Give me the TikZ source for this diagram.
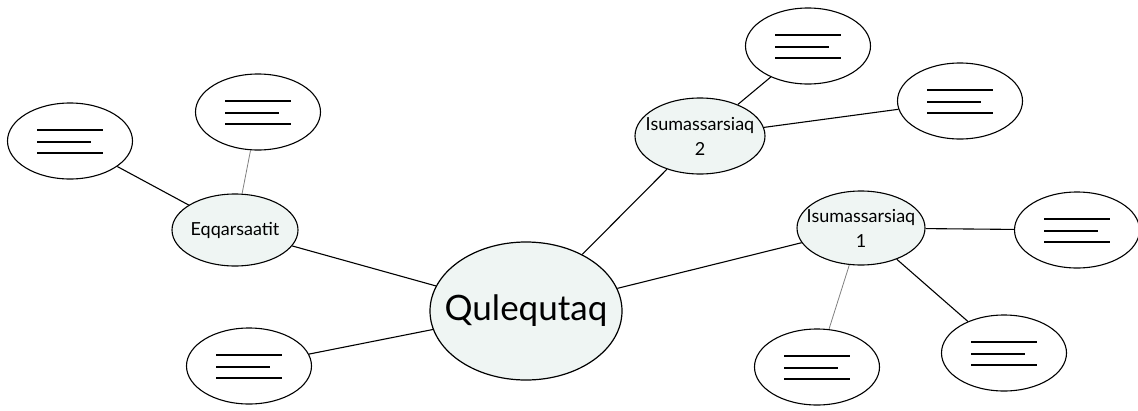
\documentclass[tikz,border=0pt]{standalone}
\usepackage{fontspec}
\setmainfont{Lato}
\usetikzlibrary{calc,positioning,shapes.geometric}
\definecolor{topicfill}{RGB}{239,245,243}
\begin{document}
\begin{tikzpicture}[x=1pt,y=-1pt,
  topic/.style={ellipse,draw,fill=topicfill,line width=1.2pt,inner sep=0pt,minimum width=192pt,minimum height=138pt,
    label={[font=\fontsize{35}{40}\selectfont]center:#1}},
  idea/.style={ellipse,draw,fill=topicfill,line width=1.1pt,inner sep=0pt,minimum width=128pt,minimum height=74pt,
    label={[align=center,font=\fontsize{18}{25}\selectfont]center:{#1}}},
  blank/.style={ellipse,draw,line width=1.1pt,inner sep=0pt,minimum width=125pt,minimum height=76pt},
  link/.style={line width=1.1pt},
  thin/.style={line width=.8pt,gray}]
  \useasboundingbox (0,0) rectangle (1138,410);

  \node[topic=Qulequtaq] (q) at (526,311) {};
  \node[idea=Eqqarsaatit,minimum width=126pt,minimum height=72pt] (e) at (235,230) {};
  \node[idea={Isumassarsiaq\\2},minimum width=130pt,minimum height=76pt] (i2) at (700,136) {};
  \node[idea={Isumassarsiaq\\1}] (i1) at (861,228) {};

  \node[blank] (b1) at (70,141) {};
  \node[blank] (b2) at (258,112) {};
  \node[blank] (b3) at (249,366) {};
  \node[blank] (b4) at (808,46) {};
  \node[blank] (b5) at (960,101) {};
  \node[blank] (b6) at (1077,230) {};
  \node[blank] (b7) at (817,367) {};
  \node[blank] (b8) at (1004,353) {};

  \foreach \n in {b1,b2,b3,b4,b5,b6,b7,b8}{
    \draw[line width=2.3pt] ([shift={(-33,-11)}]\n.center) -- ++(66,0);
    \draw[line width=2.3pt] ([shift={(-33,1)}]\n.center) -- ++(54,0);
    \draw[line width=2.3pt] ([shift={(-33,12)}]\n.center) -- ++(66,0);
  }

  \draw[link] (q) -- (e);
  \draw[link] (q) -- (b3);
  \draw[link] (q) -- (i2);
  \draw[link] (q) -- (i1);
  \draw[link] (e) -- (b1);
  \draw[thin] (e) -- (b2);
  \draw[link] (i2) -- (b4);
  \draw[link] (i2) -- (b5);
  \draw[link] (i1) -- (b6);
  \draw[thin] (i1) -- (b7);
  \draw[link] (i1) -- (b8);
\end{tikzpicture}
\end{document}
